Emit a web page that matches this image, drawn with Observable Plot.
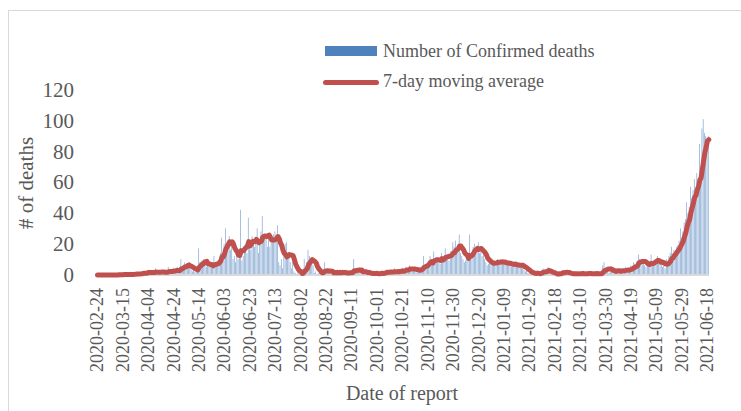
<!DOCTYPE html>
<html>
<head>
<meta charset="utf-8">
<script src="https://cdn.jsdelivr.net/npm/d3@7"></script>
<script src="https://cdn.jsdelivr.net/npm/@observablehq/plot@0.6"></script>
<style>
  body { margin: 0; background: #fff; }
  #wrap { position: relative; width: 741px; height: 411px; overflow: hidden;
          font-family: "Liberation Serif", "Times New Roman", serif; color: #595959; }
  #frame { position: absolute; left: 8px; top: 10px; width: 780px; height: 440px;
           border-left: 1px solid #d9d9d9; border-top: 1px solid #d9d9d9; }
  #chart { position: absolute; left: 0; top: 0; }
  #chart svg g[aria-label^="y-axis"] text { font-size: 21px; }
  #chart svg g[aria-label^="x-axis"] text { font-size: 18px; }
  .lg { position: absolute; white-space: nowrap; font-size: 18px; line-height: 18px; }
  .sw { position: absolute; }
  .ttl { position: absolute; white-space: nowrap; }
</style>
</head>
<body>
<div id="wrap">
  <div id="frame"></div>
  <div id="chart"></div>
  <div class="sw" style="left:325px;top:46px;width:52px;height:10px;background:#4F81BD;"></div>
  <div class="lg" style="left:383px;top:42px;">Number of Confirmed deaths</div>
  <div class="sw" style="left:323px;top:80px;width:56px;height:4.5px;border-radius:3px;background:#C0504D;"></div>
  <div class="lg" style="left:383px;top:72px;">7-day moving average</div>
  <div class="ttl" style="left:25.5px;top:182.5px;font-size:21px;line-height:21px;transform:translate(-50%,-50%) rotate(-90deg);"># of deaths</div>
  <div class="ttl" style="left:402px;top:383px;font-size:20px;line-height:20px;transform:translateX(-50%);">Date of report</div>
</div>
<script>
// Daily confirmed deaths, starting 2020-02-24
const startDate = "2020-02-24";
const feb2020 = [0,0,0,0,0,0];
const mar2020 = [0,0,0,0,0,0,0,0,0,0, 0,1,0,0,0,1,0,0,1,0, 0,1,0,1,0,2,1,0,1,1,2];
const apr2020 = [1,2,1,3,1,2,1,2,1,4, 2,1,2,1,3,1,2,2,1,5, 2,3,1,4,2,3,5,2,3,10];
const may2020 = [4,6,8,5,7,6,5,3,2,4, 2,4,3,17,8,9,6,10,7,5, 6,8,5,7,4,12,6,8,9,10,14];
const jun2020 = [24,12,20,30,18,22,25,16,20,10, 12,8,14,10,15,42,9,12,18,20, 14,37,22,16,25,20,18,24,30,14];
const jul2020 = [20,28,38,22,26,26,18,24,18,25, 22,26,28,24,32,8,6,10,4,14, 20,21,12,12,8,4,10,2,1,0,1];
const aug2020 = [0,2,1,3,10,5,8,16,12,9, 10,6,1,2,0,1,2,3,1,2, 8,1,2,1,3,0,2,1,2,1,3];
const sep2020 = [1,2,0,3,1,2,1,0,2,1, 3,2,10,1,2,3,2,1,4,2, 1,2,1,0,2,1,1,0,2,1];
const oct2020 = [1,0,1,2,1,1,2,3,2,1, 2,3,1,2,4,2,1,3,2,3, 4,2,3,5,4,3,6,4,2,3,5];
const nov2020 = [2,3,4,2,5,6,12,5,7,6, 9,12,10,6,15,8,10,9,11,7, 14,10,12,17,11,13,9,15,14,21];
const dec2020 = [18,22,16,15,26,14,12,10,8,9, 12,11,26,10,14,18,20,16,17,21, 14,15,12,13,10,8,6,7,9,7,8];
const jan2021 = [8,9,7,10,8,9,8,9,7,8, 6,8,7,9,5,7,6,8,5,7, 6,5,7,6,3,2,3,1,1,2,1];
const feb2021 = [1,0,1,2,1,0,2,3,4,2, 3,2,5,1,0,1,0,1,0,1, 1,2,1,3,2,1,2,1];
const mar2021 = [1,0,1,0,1,2,1,0,1,1, 0,2,1,0,1,1,2,0,1,1, 0,1,2,1,0,1,2,6,8,3, 5];
const apr2021 = [2,1,3,4,2,3,1,4,2,3, 2,4,3,2,5,3,4,2,6,5, 8,7,6,9,13,10,8,9,7,6];
const may2021 = [5,7,6,9,13,6,8,10,9,12, 7,6,8,5,9,4,10,8,12,14, 18,12,16,14,18,19,22,30,24,28, 34];
const jun2021 = [36,47,40,44,57,50,55,62,55,66, 60,85,60,95,101,92,90,88,90];

const tickLabels = ["2020-02-24","2020-03-15","2020-04-04","2020-04-24","2020-05-14","2020-06-03",
  "2020-06-23","2020-07-13","2020-08-02","2020-08-22","2020-09-11","2020-10-01","2020-10-21",
  "2020-11-10","2020-11-30","2020-12-20","2021-01-09","2021-01-29","2021-02-18","2021-03-10",
  "2021-03-30","2021-04-19","2021-05-09","2021-05-29","2021-06-18"];
const yTicks = [0,20,40,60,80,100,120];

const deaths = [].concat(feb2020, mar2020, apr2020, may2020, jun2020, jul2020, aug2020, sep2020,
  oct2020, nov2020, dec2020, jan2021, feb2021, mar2021, apr2021, may2021, jun2021);
const DAY = 864e5;
const t0 = new Date(startDate + "T00:00:00Z").getTime();
const data = deaths.map((v, i) => ({date: new Date(t0 + i * DAY), deaths: v}));
const last = data[data.length - 1].date.getTime();

const chart = Plot.plot({
  width: 741,
  height: 411,
  marginLeft: 96.4,
  marginRight: 32.1,
  marginTop: 90,
  marginBottom: 136.5,
  style: {fontFamily: '"Liberation Serif", "Times New Roman", serif', color: "#595959", background: "transparent", overflow: "visible"},
  x: {
    type: "utc",
    domain: [new Date(t0 - DAY / 2), new Date(last + DAY / 2)],
    ticks: tickLabels.map(s => new Date(s + "T00:00:00Z")),
    tickFormat: d3.utcFormat("%Y-%m-%d"),
    tickRotate: -90,
    tickSize: 0,
    tickPadding: 13,
    label: null
  },
  y: {
    domain: [0, 120],
    ticks: yTicks,
    tickSize: 0,
    tickPadding: 23,
    label: null
  },
  marks: [
    Plot.rectY(data, {
      x1: d => new Date(d.date.getTime() - DAY / 2),
      x2: d => new Date(d.date.getTime() + DAY / 2),
      y: "deaths",
      fill: "#4F81BD",
      fillOpacity: 0.75,
      insetLeft: 0.3,
      insetRight: 0.3
    }),
    Plot.ruleY([0], {stroke: "#d9d9d9", strokeWidth: 2}),
    Plot.lineY(data, Plot.windowY({k: 7, anchor: "end"}, {
      x: "date", y: "deaths",
      stroke: "#C0504D", strokeWidth: 5, strokeLinejoin: "round", strokeLinecap: "round"
    }))
  ]
});
document.getElementById("chart").appendChild(chart);
</script>
</body>
</html>
